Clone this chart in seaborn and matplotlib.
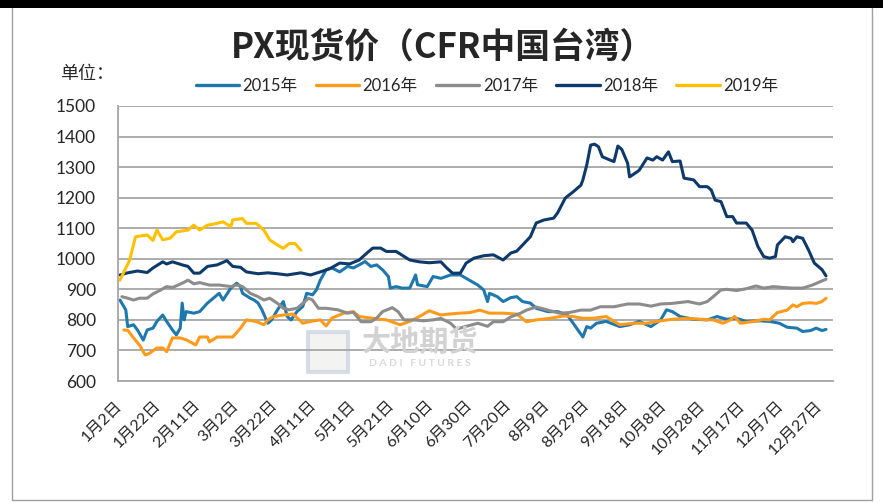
import pandas as pd
import matplotlib.pyplot as plt
import seaborn as sns
from matplotlib.patches import Rectangle
from matplotlib.lines import Line2D

# day-of-year positions and prices
days_2015 = [2, 5, 6, 9, 11, 14, 16, 19, 21, 24, 26, 29, 31, 33, 34, 35, 36, 40, 43, 47, 50, 53, 55, 59,
             62, 64, 65, 69, 71, 73, 75, 78, 80, 83, 86, 88, 90, 93, 96, 98, 101, 103, 105, 108, 111,
             115, 119, 122, 125, 128, 131, 134, 137, 140, 141, 144, 147, 151, 154, 155, 160, 163, 167,
             172, 177, 180, 186, 189, 191, 192, 196, 199, 203, 206, 209, 213, 216, 222, 227, 232, 235,
             240, 242, 244, 247, 252, 259, 264, 269, 275, 280, 283, 286, 290, 297, 304, 309, 314, 319,
             324, 331, 336, 341, 345, 350, 353, 357, 360, 363, 365]
px_2015 = [865, 833, 778, 784, 767, 734, 767, 773, 795, 816, 795, 767, 751, 773, 855, 800, 827, 822, 827,
           855, 871, 887, 865, 904, 920, 909, 887, 871, 865, 855, 833, 789, 800, 833, 860, 811, 800, 827,
           844, 887, 882, 898, 930, 964, 970, 957, 975, 970, 980, 991, 975, 980, 964, 942, 904, 909, 904,
           904, 947, 915, 909, 942, 936, 947, 947, 936, 914, 898, 860, 887, 876, 860, 873, 876, 860, 855,
           838, 827, 827, 816, 789, 744, 778, 773, 789, 795, 778, 784, 795, 778, 800, 833, 827, 811, 802,
           800, 811, 802, 805, 795, 797, 795, 789, 776, 773, 762, 765, 773, 765, 769]

days_2016 = [4, 6, 9, 12, 15, 17, 21, 24, 26, 29, 33, 36, 41, 43, 47, 48, 52, 57, 60, 64, 67, 72, 76, 78,
             81, 86, 91, 96, 100, 105, 108, 111, 117, 122, 125, 131, 136, 139, 146, 151, 156, 161, 167,
             171, 177, 182, 187, 192, 199, 206, 211, 216, 223, 230, 235, 240, 245, 252, 259, 266, 273,
             280, 286, 294, 300, 307, 312, 316, 318, 321, 328, 333, 336, 340, 345, 348, 350, 353, 357,
             360, 363, 365]
px_2016 = [767, 766, 741, 718, 685, 690, 708, 708, 696, 741, 741, 735, 718, 744, 744, 728, 744, 744, 744,
           773, 800, 795, 784, 800, 811, 816, 819, 789, 795, 800, 780, 806, 822, 827, 811, 806, 802, 800,
           784, 795, 811, 830, 816, 819, 822, 824, 832, 822, 822, 819, 794, 800, 805, 813, 811, 805, 805,
           811, 784, 789, 789, 797, 802, 805, 802, 800, 789, 800, 811, 789, 795, 802, 800, 824, 832, 849,
           843, 854, 856, 854, 860, 871]

days_2017 = [3, 6, 9, 12, 16, 19, 23, 26, 29, 34, 37, 40, 43, 48, 53, 59, 62, 65, 69, 73, 76, 79, 83, 86,
             89, 93, 96, 99, 101, 104, 108, 114, 119, 122, 126, 131, 134, 137, 142, 145, 148, 153, 158,
             163, 167, 172, 175, 180, 186, 191, 194, 199, 203, 208, 211, 216, 222, 225, 228, 233, 239,
             244, 249, 256, 263, 269, 275, 280, 286, 294, 300, 304, 307, 311, 314, 319, 324, 329, 333,
             338, 343, 348, 353, 358, 362, 365]
px_2017 = [876, 871, 865, 871, 871, 885, 898, 909, 906, 920, 930, 918, 922, 914, 914, 909, 914, 909, 887,
           876, 865, 871, 854, 838, 833, 838, 854, 871, 865, 838, 838, 833, 822, 825, 794, 794, 806, 827,
           840, 827, 800, 800, 797, 800, 805, 789, 770, 779, 789, 779, 794, 794, 810, 822, 832, 842, 832,
           827, 822, 824, 832, 832, 843, 843, 852, 852, 845, 852, 854, 860, 852, 860, 876, 898, 900, 896,
           902, 911, 904, 909, 906, 904, 904, 914, 925, 933]

days_2018 = [2, 6, 11, 16, 19, 24, 26, 29, 34, 37, 40, 43, 47, 52, 57, 60, 64, 67, 73, 78, 83, 88, 95,
             100, 105, 110, 115, 120, 125, 129, 132, 136, 139, 144, 151, 156, 161, 167, 170, 173, 177,
             180, 184, 189, 194, 199, 203, 206, 209, 213, 216, 220, 225, 227, 231, 235, 239, 240, 242,
             244, 246, 248, 250, 254, 256, 258, 260, 263, 264, 268, 269, 273, 276, 278, 281, 284, 286,
             290, 292, 297, 300, 304, 306, 308, 311, 314, 317, 319, 324, 327, 330, 333, 336, 339, 340,
             344, 347, 348, 350, 353, 356, 359, 363, 365]
px_2018 = [947, 954, 960, 955, 970, 990, 983, 990, 980, 975, 953, 953, 975, 980, 994, 975, 972, 957, 951,
           954, 951, 947, 954, 947, 957, 968, 986, 983, 996, 1019, 1035, 1035, 1024, 1024, 996, 990, 987,
           990, 970, 953, 953, 986, 1002, 1010, 1013, 996, 1019, 1025, 1045, 1072, 1117, 1127, 1133,
           1150, 1199, 1219, 1241, 1258, 1307, 1372, 1375, 1367, 1334, 1323, 1318, 1369, 1358, 1313,
           1268, 1285, 1290, 1330, 1323, 1334, 1323, 1350, 1318, 1320, 1264, 1258, 1236, 1236, 1225,
           1192, 1187, 1138, 1138, 1117, 1117, 1094, 1040, 1007, 1002, 1007, 1045, 1072, 1067, 1056,
           1072, 1067, 1029, 986, 964, 944]

days_2019 = [2, 7, 10, 16, 19, 21, 24, 28, 31, 37, 40, 43, 47, 52, 55, 59, 60, 65, 67, 72, 76, 79, 83,
             86, 89, 92, 95]
px_2019 = [930, 996, 1072, 1078, 1060, 1094, 1062, 1068, 1088, 1094, 1110, 1094, 1110, 1116, 1121, 1105,
           1127, 1132, 1116, 1116, 1094, 1062, 1045, 1034, 1050, 1050, 1028]

years = ['2015年', '2016年', '2017年', '2018年', '2019年']
colors = ['#1f78ad', '#ff9a1a', '#8c8c8c', '#0d3a6b', '#ffc000']

tick_days = list(range(2, 363, 20))
tick_labels = ['1月2日', '1月22日', '2月11日', '3月2日', '3月22日', '4月11日', '5月1日', '5月21日',
               '6月10日', '6月30日', '7月20日', '8月9日', '8月29日', '9月18日', '10月8日', '10月28日',
               '11月17日', '12月7日', '12月27日']

frames = []
for yr, d, p in zip(years, [days_2015, days_2016, days_2017, days_2018, days_2019],
                    [px_2015, px_2016, px_2017, px_2018, px_2019]):
    frames.append(pd.DataFrame({'day': d, 'price': p, 'year': yr}))
df = pd.concat(frames, ignore_index=True)

sns.set_style('white')
plt.rcParams['font.family'] = ['Lato', 'Noto Sans CJK SC', 'DejaVu Sans']

fig = plt.figure(figsize=(8.83, 5.03), dpi=100)
ax = fig.add_axes([118 / 883, 1 - 381 / 503, 715 / 883, 275 / 503])

sns.lineplot(data=df, x='day', y='price', hue='year', palette=colors, estimator=None,
             linewidth=2.2, ax=ax, legend=False)

ax.set_xlim(1, 368.6)
ax.set_ylim(600, 1500)
ax.set_yticks(range(600, 1501, 100))
ax.yaxis.grid(True, color='#a6a6a6', linewidth=1.3)
ax.set_axisbelow(True)
ax.set_xticks(tick_days)
ax.set_xticklabels(tick_labels, rotation=45, ha='right', va='center', rotation_mode='anchor',
                   fontsize=11.5)
ax.tick_params(axis='x', length=0, pad=16)
ax.tick_params(axis='y', length=0, pad=16, labelsize=12.5)
ax.set_xlabel('')
ax.set_ylabel('')
for s in ['top', 'right']:
    ax.spines[s].set_visible(False)
for s in ['left', 'bottom']:
    ax.spines[s].set_color('#a6a6a6')
    ax.spines[s].set_linewidth(1.3)

# watermark
ax.add_patch(Rectangle((308 / 883, 1 - 372 / 503), 40 / 883, 40 / 503, transform=fig.transFigure,
                       facecolor='#f1f1ee', edgecolor='#cdd6e2', linewidth=3, alpha=0.8, zorder=0))
fig.text(420 / 883, 1 - 342 / 503, '大地期货', ha='center', va='center', fontsize=21,
         fontweight='bold', color='#d2d2d2', family=['Noto Sans CJK SC'], zorder=0)
fig.text(420 / 883, 1 - 364 / 503, 'D A D I   F U T U R E S', ha='center', va='center', fontsize=7.5,
         fontweight='bold', color='#d8d8d8', zorder=0)

fig.text(443 / 883, 1 - 47 / 503, 'PX现货价（CFR中国台湾）', ha='center', va='center', fontsize=25,
         fontweight='bold', family=['Noto Sans CJK SC'])
fig.text(60 / 883, 1 - 74 / 503, '单位：', ha='left', va='center', fontsize=13,
         family=['Noto Sans CJK SC'])

handles = [Line2D([], [], color=c, linewidth=2.4) for c in colors]
fig.legend(handles, years, loc='center', bbox_to_anchor=(487 / 883, 1 - 86 / 503), ncol=5,
           frameon=False, fontsize=12, handlelength=2.6, handletextpad=0.2, columnspacing=1.1,
           borderaxespad=0)

# outer frame of the picture
fig.patches.append(Rectangle((0, 1 - 8 / 503), 1, 8 / 503, transform=fig.transFigure,
                             facecolor='black', edgecolor='none'))
fig.lines.append(Line2D([12 / 883, 12 / 883], [0.005, 1 - 8 / 503], transform=fig.transFigure,
                        color='#a0a0a0', linewidth=1))
fig.lines.append(Line2D([872 / 883, 872 / 883], [0.005, 1 - 8 / 503], transform=fig.transFigure,
                        color='#a0a0a0', linewidth=1))
fig.lines.append(Line2D([12 / 883, 872 / 883], [0.006, 0.006], transform=fig.transFigure,
                        color='#a0a0a0', linewidth=1))

fig.savefig('out.png', dpi=100)
